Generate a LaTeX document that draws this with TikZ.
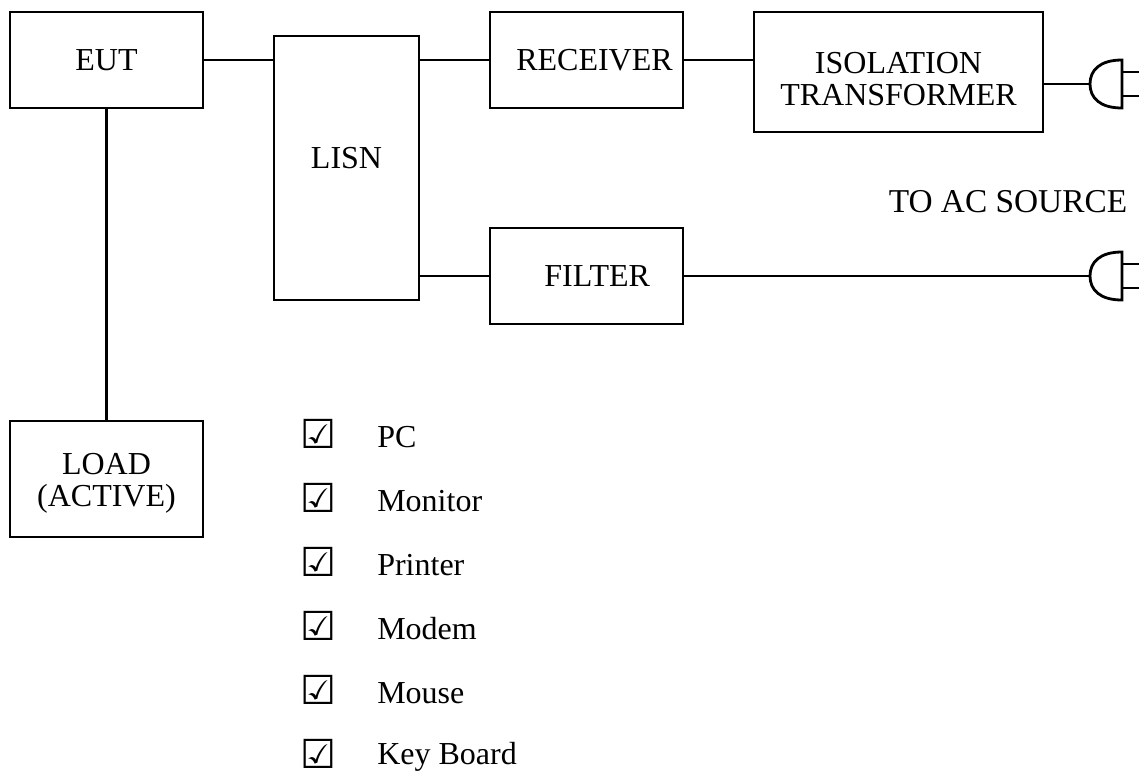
\documentclass[tikz,border=0pt]{standalone}
\usepackage{fontspec}
\setmainfont{Liberation Serif}
\newfontfamily\symfont{DejaVu Sans}
\usetikzlibrary{positioning}

\begin{document}
\begin{tikzpicture}[x=0.75pt, y=-0.75pt,
    font=\fontsize{24}{24}\selectfont,
    blk/.style = {draw, line width=2.1pt, align=center, inner sep=0pt},
    wire/.style = {line width=1.7pt},
    acplug/.pic = {
        \draw[line width=2.1pt] (32,-24) .. controls (10,-24) and (0,-14) .. (0,0)
              .. controls (0,14) and (10,24) .. (32,24) -- cycle;
        \draw[line width=2.1pt] (32,-12) -- (49,-12) (32,12) -- (49,12);
    }]
\useasboundingbox (0,0) rectangle (1146,776);
% blocks
\node[blk, minimum width=144.75pt, minimum height=72pt] (eut) at (106.5,60) {EUT};
\node[blk, minimum width=108.75pt, minimum height=198pt] (lisn) at (346.5,168)
    {\raisebox{-0.5pt}[0pt][0pt]{LISN}};
\node[blk, minimum width=144.75pt, minimum height=72pt] (rcv) at (586.5,60) {\hspace*{12pt}RECEIVER};
\node[blk, minimum width=216.75pt, minimum height=90pt] (iso) at (898.5,72)
    {\raisebox{-14.5pt}[0pt][0pt]{\begin{tabular}{@{}c@{}}ISOLATION\\TRANSFORMER\end{tabular}}};
\node[blk, minimum width=144.75pt, minimum height=72pt] (flt) at (586.5,276) {\hspace*{16pt}FILTER};
\node[blk, minimum width=144.75pt, minimum height=87pt] (load) at (106.5,479)
    {\raisebox{-9.75pt}[0pt][0pt]{\begin{tabular}{@{}c@{}}LOAD\\(ACTIVE)\end{tabular}}};
\node[font=\fontsize{25}{25}\selectfont] (src) at (1008,202) {TO AC SOURCE};
% plugs
\coordinate (plugA) at (1090,84);
\coordinate (plugB) at (1090,276);
\pic at (plugA) {acplug};
\pic at (plugB) {acplug};
% wires
\draw[wire] (eut.east) -- (eut.east -| lisn.west);
\draw[wire] (eut.south) -- (load.north);
\draw[wire] (rcv.west -| lisn.east) -- (rcv.west);
\draw[wire] (flt.west -| lisn.east) -- (flt.west);
\draw[wire] (rcv.east) -- (rcv.east -| iso.west);
\draw[wire] (iso.east |- plugA) -- (plugA);
\draw[wire] (flt.east) -- (plugB);
% equipment list
\foreach \item [count=\i from 0] in {PC, Monitor, Printer, Modem, Mouse, Key Board} {
    \node[font=\fontsize{30}{30}\selectfont] (chk\i) at (318, 434+64*\i) {\symfont ☑};
    \node[anchor=west, inner sep=0pt] (itm\i) at (377, 437+64*\i) {\item};
}
\end{tikzpicture}
\end{document}
